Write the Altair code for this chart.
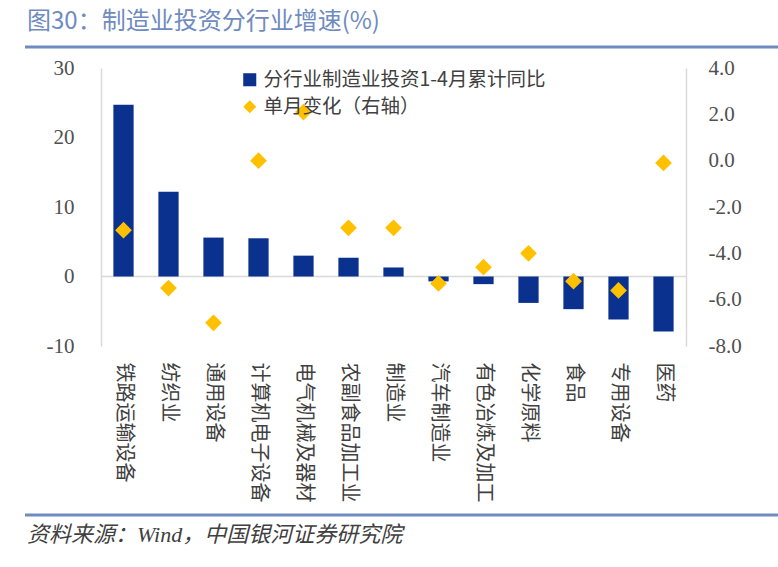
import altair as alt
import pandas as pd

categories = ["铁路运输设备", "纺织业", "通用设备", "计算机电子设备", "电气机械及器材",
              "农副食品加工业", "制造业", "汽车制造业", "有色冶炼及加工", "化学原料",
              "食品", "专用设备", "医药"]
cumulative = [24.7, 12.2, 5.6, 5.5, 3.0, 2.7, 1.3, -0.7, -1.1, -3.8, -4.7, -6.2, -7.9]
monthly = [-3.0, -5.5, -7.0, 0.0, 2.1, -2.9, -2.9, -5.3, -4.6, -4.0, -5.2, -5.6, -0.1]
left_ticks = [-10, 0, 10, 20, 30]
right_ticks = [-8, -6, -4, -2, 0, 2, 4]

S1 = "分行业制造业投资1-4月累计同比"
S2 = "单月变化（右轴）"
title_text = "图30：制造业投资分行业增速(%)"
source_text = "资料来源：Wind，中国银河证券研究院"

df = pd.DataFrame({"cat": categories, "cum": cumulative, "mon": monthly})

BLUE = "#0B318F"
GOLD = "#FFC000"
TXT = "#404040"
NUM = "#505050"
AX = "#D9D9D9"
NUMFONT = "Liberation Serif"
CJK = "Noto Sans CJK SC"

color_scale = alt.Scale(domain=[S1, S2], range=[BLUE, GOLD])
shape_scale = alt.Scale(domain=[S1, S2], range=["square", "diamond"])

x_enc = alt.X("cat:N", sort=categories,
              scale=alt.Scale(paddingInner=0.55, paddingOuter=0.275),
              axis=alt.Axis(title=None, labelAngle=90, labelAlign="left", labelBaseline="middle",
                            domain=False, ticks=False, labelPadding=16, labelFont=CJK,
                            labelFontSize=20, labelColor=TXT, labelLimit=300))

bars = alt.Chart(df).transform_calculate(series=f'"{S1}"').mark_bar().encode(
    x=x_enc,
    y=alt.Y("cum:Q", scale=alt.Scale(domain=[-10, 30], nice=False),
            axis=alt.Axis(title=None, values=left_ticks, grid=False, ticks=False,
                          labelExpr="datum.value < 0 ? '-' + format(-datum.value, 'd') : format(datum.value, 'd')",
                          domainColor=AX, domainWidth=1.5, labelFont=NUMFONT, labelFontSize=21,
                          labelColor=NUM, labelPadding=27)),
    color=alt.Color("series:N", scale=color_scale,
                    legend=alt.Legend(title=None, orient="none", legendX=139, legendY=2,
                                      labelFont=CJK, labelFontSize=19.5, labelColor=TXT,
                                      labelLimit=500, symbolSize=170, rowPadding=6,
                                      labelOffset=4, symbolStrokeWidth=0, padding=0)),
    shape=alt.Shape("series:N", scale=shape_scale),
)

zero = alt.Chart(alt.Data(values=[{"v": 0}])).mark_rule(color=AX, strokeWidth=1.5).encode(
    y=alt.Y("v:Q")
)

left = alt.layer(zero, bars)

points = alt.Chart(df).transform_calculate(series=f'"{S2}"').mark_point(
    filled=True, size=280, opacity=1, strokeWidth=0).encode(
    x=alt.X("cat:N", sort=categories),
    y=alt.Y("mon:Q", scale=alt.Scale(domain=[-8, 4], nice=False),
            axis=alt.Axis(title=None, orient="right", values=right_ticks,
                          labelExpr="datum.value < 0 ? '-' + format(-datum.value, '.1f') : format(datum.value, '.1f')",
                          grid=False, ticks=False, domainColor=AX, domainWidth=1.5,
                          labelFont=NUMFONT, labelFontSize=21, labelColor=NUM,
                          labelPadding=22)),
    color=alt.Color("series:N", scale=color_scale),
    shape=alt.Shape("series:N", scale=shape_scale),
)

one = alt.Data(values=[{"a": 1}])
title = alt.Chart(one).mark_text(align="left", baseline="middle", font=CJK, fontSize=24,
                                 color="#6F8BC0").encode(
    x=alt.value(-74), y=alt.value(-46), text=alt.value(title_text))
top_line = alt.Chart(one).mark_rule(color="#6F8BC0", strokeWidth=3).encode(
    x=alt.value(-76), x2=alt.value(677), y=alt.value(-21))
bottom_line = alt.Chart(one).mark_rule(color="#6F8BC0", strokeWidth=3).encode(
    x=alt.value(-76), x2=alt.value(677), y=alt.value(447))
source = alt.Chart(one).mark_text(align="left", baseline="middle",
                                  font=f"{NUMFONT}, {CJK}", fontStyle="italic",
                                  fontSize=22, color=TXT).encode(
    x=alt.value(-74), y=alt.value(467), text=alt.value(source_text))

chart = alt.layer(left, points, title, top_line, bottom_line, source).resolve_scale(
    y="independent"
).properties(
    width=585, height=278,
    autosize=alt.AutoSizeParams(type="none"),
    padding={"left": 101, "top": 68, "right": 92, "bottom": 221},
    background="white",
).configure_view(stroke=None)

chart.save("out.html", embed_options={"renderer": "svg", "actions": False})
